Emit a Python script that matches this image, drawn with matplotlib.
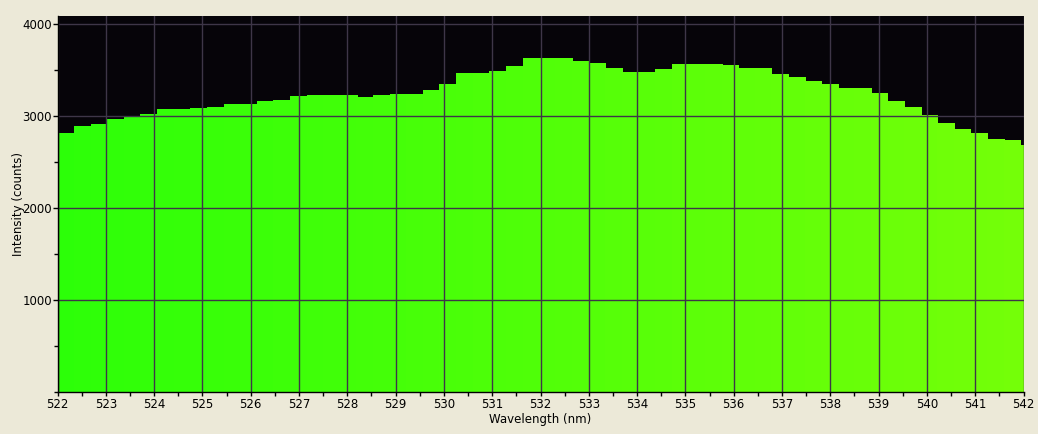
import numpy as np
import matplotlib
matplotlib.use("Agg")
import matplotlib.pyplot as plt
from matplotlib.ticker import MultipleLocator

# Pixel wavelengths (nm, bar centers) and intensities (counts)
wavelengths = [522.17, 522.52, 522.86, 523.20, 523.55, 523.89, 524.23, 524.58, 524.92, 525.27,
               525.61, 525.95, 526.30, 526.64, 526.98, 527.33, 527.67, 528.02, 528.36, 528.70,
               529.05, 529.39, 529.73, 530.08, 530.42, 530.77, 531.11, 531.45, 531.80, 532.14,
               532.48, 532.83, 533.17, 533.51, 533.86, 534.20, 534.55, 534.89, 535.23, 535.58,
               535.92, 536.26, 536.61, 536.95, 537.30, 537.64, 537.98, 538.33, 538.67, 539.01,
               539.36, 539.70, 540.04, 540.39, 540.73, 541.08, 541.42, 541.76, 542.11]
intensity = [2821, 2897, 2918, 2973, 2995, 3025, 3079, 3079, 3090, 3101,
             3134, 3134, 3166, 3177, 3221, 3232, 3232, 3232, 3210, 3232,
             3243, 3243, 3286, 3351, 3471, 3471, 3493, 3547, 3634, 3634,
             3634, 3601, 3579, 3525, 3482, 3482, 3514, 3569, 3569, 3569,
             3558, 3525, 3525, 3460, 3427, 3384, 3351, 3308, 3308, 3253,
             3166, 3101, 3014, 2927, 2862, 2821, 2755, 2745, 2690]
bin_width = 0.3437
x_range = (522, 542)
y_max = 4090


def wl_color(w):
    # approximate visible-spectrum colour for 510-580 nm
    r = (w - 510.0) / (580.0 - 510.0)
    return (min(max(r, 0), 1), 1.0, 0.03)


W, H, DPI = 1038, 434, 100
fig = plt.figure(figsize=(W / DPI, H / DPI), dpi=DPI)
fig.patch.set_facecolor("#ECE9D8")

left, right, top, bottom = 57.5, 1023.5, 16, 392.3
ax = fig.add_axes([left / W, (H - bottom) / H, (right - left) / W, (bottom - top) / H])
ax.set_facecolor("#060409")

colors = [wl_color(w) for w in wavelengths]
bars = ax.bar(wavelengths, intensity, width=bin_width, color=colors, edgecolor=colors,
              linewidth=0.6, antialiased=False, zorder=1)
for b in bars:
    b.set_joinstyle("miter")

ax.set_xlim(*x_range)
ax.set_ylim(0, y_max)

ax.xaxis.set_major_locator(MultipleLocator(1))
ax.xaxis.set_minor_locator(MultipleLocator(0.5))
ax.set_yticks([1000, 2000, 3000, 4000])
ax.yaxis.set_minor_locator(MultipleLocator(500))

ax.set_axisbelow(False)
ax.grid(True, which="major", color="#3E3648", linewidth=1.0, zorder=2)

for s in ["top", "right"]:
    ax.spines[s].set_visible(False)
for s in ["left", "bottom"]:
    ax.spines[s].set_color("black")
    ax.spines[s].set_linewidth(1.0)
    ax.spines[s].set_zorder(3)

ax.tick_params(axis="y", which="major", direction="out", length=3.6, width=1,
               labelsize=8.5, colors="black", pad=0.5)
ax.tick_params(axis="y", which="minor", direction="out", length=3.0, width=1, colors="black")
ax.tick_params(axis="x", which="major", direction="out", length=3.0, width=1,
               labelsize=8.5, colors="black", pad=1.0)
ax.tick_params(axis="x", which="minor", direction="out", length=3.0, width=1, colors="black")

ax.set_xlabel("Wavelength (nm)", fontsize=8.5, labelpad=1.5)
ax.set_ylabel("Intensity (counts)", fontsize=8.5, labelpad=-2)

fig.savefig("out.png", dpi=DPI, facecolor=fig.get_facecolor())
